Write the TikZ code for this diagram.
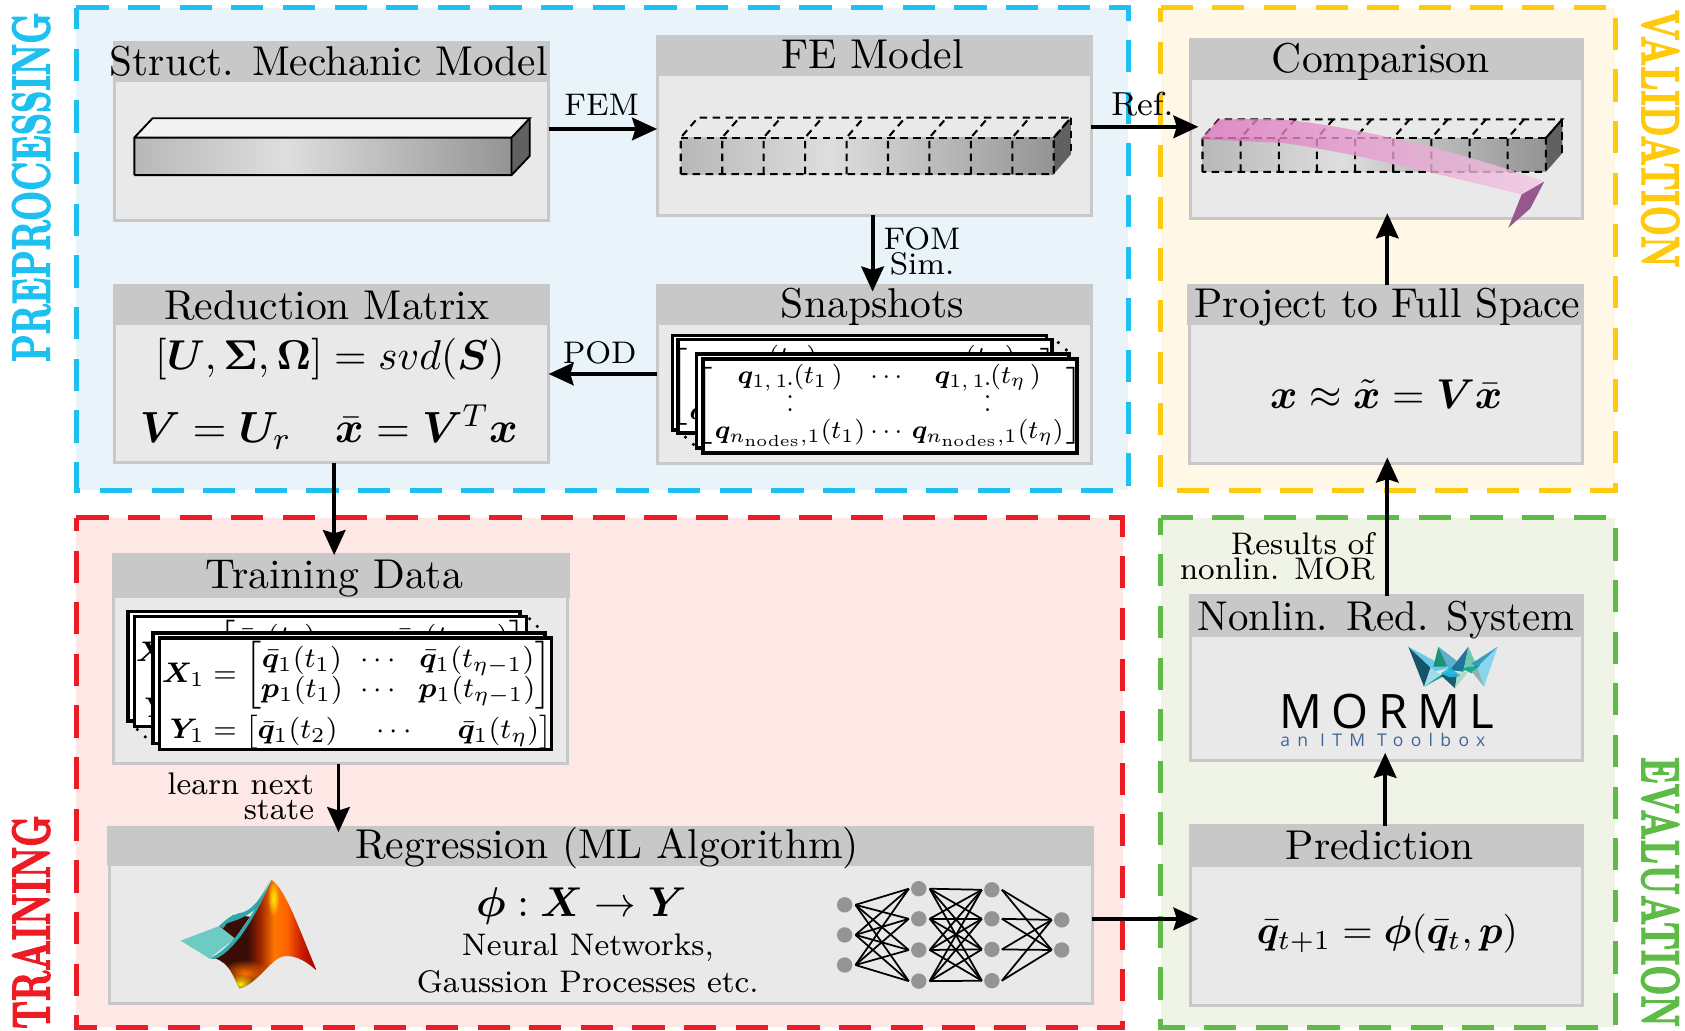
\documentclass[tikz,border=0pt]{standalone}
\usepackage{amsmath}
\usepackage{bm}
\usepackage{fontspec}
\usetikzlibrary{arrows.meta,calc,fadings}
\newfontfamily\morfont[LetterSpace=20]{Open Sans}
\newfontfamily\itmfont[LetterSpace=42]{Open Sans}
\font\sidef="[lmroman10-bold.otf]:embolden=3" at 10pt
\definecolor{cblue}{HTML}{1EC0F0}\definecolor{fblue}{HTML}{E8F4FA}
\definecolor{cyel}{HTML}{FFC90E}\definecolor{fyel}{HTML}{FFF8E6}
\definecolor{cred}{HTML}{ED1C24}\definecolor{fred}{HTML}{FDE8E6}
\definecolor{cgrn}{HTML}{5DBB46}\definecolor{fgrn}{HTML}{F0F4E6}
\definecolor{hdr}{HTML}{C8C8C8}\definecolor{bodyc}{HTML}{E9E9E9}
\definecolor{pinkl}{HTML}{DC74BC}\definecolor{pinkr}{HTML}{F3C8E4}\definecolor{pinkd}{HTML}{96588E}
\definecolor{mteal}{HTML}{6CCBC2}\definecolor{mtealb}{HTML}{2FA8AE}\definecolor{mdark}{HTML}{3A0C06}
\pgfdeclarehorizontalshading{matbody}{100bp}{color(0bp)=(mdark);color(25bp)=(mdark);
 color(41bp)=(mdark);color(47bp)=(orange!45!red!60!black);color(54bp)=(orange!92!red);
 color(60bp)=(orange!80!red);color(67bp)=(red!70!orange!80!black);color(75bp)=(red!60!black);color(100bp)=(red!60!black)}
\tikzfading[name=glowf,inner color=transparent!0,outer color=transparent!100]
\tikzset{
 fmbody/.style={draw=hdr,fill=bodyc,line width=.75pt,inner sep=0,outer sep=0,rectangle},
 arr/.style={-{Stealth[length=6pt,width=5.4pt,inset=.8pt]},line width=.95pt,black},
 lab/.style={font=\fontsize{7.5}{9}\selectfont,inner sep=0,align=center},
 fdash/.style={dash pattern=on 7.74pt off 4.66pt,line width=1.2pt},
 gridd/.style={dash pattern=on 1.8pt off 1.3pt,line width=.5pt,black},
 sheet/.style={draw=black,fill=white,line width=.85pt},
 neuron/.style={circle,fill=black!42,inner sep=0,minimum size=3.7pt,outer sep=0},
 edgel/.style={line width=.42pt,black},
 side/.style={inner sep=0,font=\sidef},
}
\newcommand\fmframe[6]{%
 \fill[#6] (#2,#3) rectangle (#4,#5);
 \draw[#1,fdash] (#2,#3) -- (#4,#3) -- (#4,#5) -- (#2,#5) -- cycle;}
\newcommand\fmbox[9]{%
 \node[fmbody,minimum width={(#4-#2-3)*0.258pt},minimum height={(#5-#3-3)*0.258pt}] (#1) at ({(#2+#4)/2},{(#3+#5)/2}) {};
 \fill[hdr] (#2,#3) rectangle (#4,#6);
 \node[anchor=base,inner sep=0] (#1-title) at (#7,#8) {#9};}
\newcommand\frontshade[4]{%
 \shade[left color=black!28,right color=black!13] (#1,#3) rectangle ({#1+0.4*(#2-#1)},#4);
 \shade[left color=black!13,right color=black!42] ({#1+0.4*(#2-#1)},#3) rectangle (#2,#4);}
\newcommand\febeam[6]{%
 \frontshade{#1}{#2}{#3}{#4}
 \fill[black!62] (#2,#3) -- ++(#5,#6) -- (#2+#5,#4+#6) -- (#2,#4) -- cycle;
 \draw[gridd] (#1,#4) -- (#1,#3) -- ++(#5,#6) -- (#2+#5,#3+#6) -- (#2,#3) -- (#2,#4) -- cycle;
 \draw[gridd] (#1,#3) -- (#2,#3);
 \foreach \i in {1,...,8}{
  \pgfmathsetmacro\xx{#1+\i*(#2-#1)/9}
  \draw[gridd] (\xx,#4) -- (\xx,#3) -- ++(#5,#6);}
 \draw[gridd] (#2,#3) -- ++(#5,#6);
 \draw[gridd] (#2+#5,#3+#6) -- (#2+#5,#4+#6);}
\newcommand\snapmat{\scalebox{.77}{\footnotesize\renewcommand\arraystretch{.9}\setlength\arraycolsep{.8pt}$\left[\begin{array}{ccc}
 \bm{q}_{1,\,1}\,(t_1\,) & \cdots & \bm{q}_{1,\,1}\,(t_\eta\,)\\
 \smash{\vdots} & & \smash{\vdots}\\
 \bm{q}_{n_{\text{nodes}},1}(t_1) & \cdots & \bm{q}_{n_{\text{nodes}},1}(t_\eta)
 \end{array}\right]$}}
\newcommand\trainmat{\scalebox{.85}{\footnotesize\setlength\arraycolsep{2.5pt}$\begin{aligned}
 \bm{X}_1 &= \begin{bmatrix}\bar{\bm{q}}_1(t_1) & \cdots & \bar{\bm{q}}_1(t_{\eta-1})\\[-1pt] \bm{p}_1(t_1) & \cdots & \bm{p}_1(t_{\eta-1})\end{bmatrix}\\[-2.5pt]
 \bm{Y}_1 &= \begin{bmatrix}\bar{\bm{q}}_1(t_2) & \hspace{6pt}\cdots\hspace{6pt} & \hspace{2pt}\bar{\bm{q}}_1(t_\eta)\end{bmatrix}
 \end{aligned}$}}
\newcommand\crownp[2]{\definecolor{cc}{HTML}{#1}\fill[cc,opacity=.92] #2 -- cycle;}
\begin{document}
\begin{tikzpicture}[x=0.258pt,y=-0.258pt]
\useasboundingbox (0,0) rectangle (1568,959.4);
% frames
\fmframe{cblue}{71}{7}{1050}{456}{fblue}
\fmframe{cyel}{1080}{7}{1503}{456}{fyel}
\fmframe{cred}{71}{482}{1045}{956}{fred}
\fmframe{cgrn}{1080}{482}{1503}{956}{fgrn}
% side labels
\node[side,rotate=90,text=cblue] (lprep) at (29,174) {\scalebox{.84}[1.28]{PREPROCESSING}};
\node[side,rotate=90,text=cred] (ltrain) at (29,858) {\scalebox{.84}[1.28]{TRAINING}};
\node[side,rotate=-90,text=cyel] (lval) at (1545,129) {\scalebox{.84}[1.28]{VALIDATION}};
\node[side,rotate=-90,text=cgrn] (leval) at (1545,830) {\scalebox{.84}[1.28]{EVALUATION}};
% boxes
\fmbox{struct}{105}{38}{512}{207}{76}{306}{70}{\scalebox{.99}[1]{Struct. Mechanic Model}}
\fmbox{fe}{610}{33}{1017}{202}{71}{812}{64}{FE Model}
\fmbox{red}{105}{264}{512}{432}{302}{304}{297}{Reduction Matrix}
\fmbox{snap}{610}{264}{1017}{433}{302}{812}{295}{Snapshots}
\fmbox{cmp}{1106}{35}{1474}{205}{74}{1285}{67}{Comparison}
\fmbox{proj}{1105}{264}{1474}{433}{302}{1291}{295}{Project to Full Space}
\fmbox{train}{104}{515}{530}{712}{556}{311}{548}{Training Data}
\fmbox{regr}{100}{769}{1018}{935}{806}{565}{799}{Regression (ML Algorithm)}
\fmbox{nonl}{1106}{553}{1474}{709}{593}{1290}{587}{\scalebox{.98}[1]{Nonlin. Red. System}}
\fmbox{pred}{1106}{767}{1474}{937}{807}{1284}{800}{Prediction}
% solid beam
\fill[bodyc!55!white] (125,128) -- (142,110) -- (493,110) -- (476,128) -- cycle;
\frontshade{125}{476}{128}{163}
\fill[black!62] (476,128) -- (493,110) -- (493,145) -- (476,163) -- cycle;
\draw[black,line width=.45pt] (125,163) -- (125,128) -- (142,110) -- (493,110) -- (476,128) -- (125,128) (476,128) -- (476,163) -- (125,163) (493,110) -- (493,145) -- (476,163);
% discretised beams
\febeam{633.5}{980.6}{128}{162}{16}{-18.5}
\febeam{1119}{1438.5}{128.5}{160}{15.3}{-17.5}
\shade[left color=pinkl,right color=pinkr,opacity=.8]
 (1134.5,111) .. controls (1170,111) and (1190,110) .. (1210,113) .. controls (1260,119) and (1350,138) .. (1437,169)
 -- (1416,181) .. controls (1350,165) and (1260,142) .. (1194,133) -- (1117,129.6) -- cycle;
\fill[pinkd] (1437,169) -- (1416,181) -- (1403.6,212) -- (1424,194) -- cycle;
% snapshots stack
\draw[sheet] (625.6,312) rectangle (974,400);
\draw[sheet] (631,316) rectangle (979,403);
\begin{scope}
 \clip (633,318) rectangle (977,401);
 \node[inner sep=0] (snapback) at (804,359.5) {\snapmat};
\end{scope}
\draw[dotted,line width=.6pt] (984,318) -- (997,330);
\draw[dotted,line width=.6pt] (637,406) -- (648,416);
\draw[sheet] (648,329.5) rectangle (995,417);
\draw[sheet] (654,334) rectangle (1002,421.6);
\node[inner sep=0] (snapfront) at (827.5,377.5) {\snapmat};
% training stack
\draw[sheet] (119,569) rectangle (484,671);
\draw[sheet] (125,573.7) rectangle (490,676);
\begin{scope}
 \clip (127,575.5) rectangle (488,674);
 \node[inner sep=0] (trainback) at (308,627) {\trainmat};
\end{scope}
\draw[dotted,line width=.6pt] (492,575) -- (505,588);
\draw[dotted,line width=.6pt] (127,678) -- (142,692);
\draw[sheet] (142.4,588.8) rectangle (507,692);
\draw[sheet] (148.5,593.5) rectangle (513,697.5);
\node[inner sep=0] (trainfront) at (332,647) {\trainmat};
% equations
\node[anchor=base,inner sep=0] (eqa) at (307,344) {$[\bm{U},\bm{\Sigma},\bm{\Omega}]=svd(\bm{S})$};
\node[anchor=base,inner sep=0] (eqb) at (306,412) {\scalebox{.955}{\fontsize{10.95}{13}\selectfont$\bm{V}=\bm{U}_r\quad\bar{\bm{x}}=\bm{V}^T\bm{x}$}};
\node[anchor=base,inner sep=0] (eqc) at (1290,380) {$\bm{x}\approx\tilde{\bm{x}}=\bm{V}\bar{\bm{x}}$};
\node[anchor=base,inner sep=0] (eqd) at (1291,878) {\scalebox{.94}{$\bar{\bm{q}}_{t+1}=\bm{\phi}(\bar{\bm{q}}_t,\bm{p})$}};
\node[anchor=base,inner sep=0] (eqe) at (541,853) {$\bm{\phi}:\bm{X}\rightarrow\bm{Y}$};
\node[anchor=base,lab] (nn1) at (547,889) {Neural Networks,};
\node[anchor=base,lab] (nn2) at (547,924) {Gaussion Processes etc.};
% neural network
\foreach \n/\x/\y in {a1/786/842,a2/786/870,a3/786/898,b1/855/827,b2/855/855,b3/855/884,b4/855/913,c1/923/828,c2/923/855,c3/923/883.5,c4/923/912.6,d1/988/856,d2/988/884}
 \node[neuron] (\n) at (\x,\y) {};
\foreach \p in {a1,a2,a3}\foreach \q in {b1,b2,b3,b4}
 \draw[edgel] ([xshift=2.6pt]\p.center) -- ([xshift=-2.4pt]\q.center);
\foreach \p in {b1,b2,b3,b4}\foreach \q in {c1,c2,c3,c4}
 \draw[edgel] ([xshift=2.6pt]\p.center) -- ([xshift=-2.4pt]\q.center);
\foreach \p in {c1,c2,c3,c4}\foreach \q in {d1,d2}
 \draw[edgel] ([xshift=2.4pt]\p.center) -- ([xshift=-2.4pt]\q.center);
% MATLAB logo
\begin{scope}[shift={(158.2,809.6)},scale=.3102]
 \fill[mteal] (32,212) -- (148,168) -- (195,205) -- (118,265) -- cycle;
 \fill[mdark] (148,168) -- (195,205) -- (240,140) -- (190,135) -- cycle;
 \fill[mtealb] (148,168) .. controls (165,150) and (185,135) .. (205,130) .. controls (245,125) and (270,90) .. (300,30)
   -- (262,110) .. controls (235,140) and (200,150) .. (170,160) -- (160,175) -- cycle;
 \begin{scope}
  \clip (305,30) .. controls (345,55) and (385,170) .. (440,302)
    .. controls (400,265) and (360,250) .. (330,262)
    .. controls (295,280) and (255,345) .. (208,355)
    .. controls (190,320) and (180,280) .. (135,265)
    .. controls (190,235) and (250,130) .. (305,30) -- cycle;
  \shade[shading=matbody] (135,30) rectangle (440,355);
  \fill[orange!90!red,path fading=glowf] (225,310) ellipse (75 and 42);
  \fill[yellow,path fading=glowf] (210,342) ellipse (44 and 28);
  \fill[yellow,path fading=glowf] (310,85) ellipse (18 and 55);
 \end{scope}
 \fill[mtealb] (118,265) .. controls (190,235) and (250,130) .. (305,30) .. controls (260,130) and (200,240) .. (135,267) -- cycle;
\end{scope}
% MORML logo
\begin{scope}[shift={(1302.8,595.6)},scale=.3102]
 \crownp{07485E}{(25,20) -- (92,82) -- (72,140)}
 \crownp{5CC8EE}{(25,20) -- (145,85) -- (100,95) -- (92,82)}
 \crownp{9ADCE8}{(92,82) -- (122,105) -- (72,140)}
 \crownp{0E8A72}{(115,20) -- (145,80) -- (100,80)}
 \crownp{55ACCB}{(115,20) -- (170,62) -- (150,100) -- (140,75)}
 \crownp{0AA080}{(72,140) -- (175,85) -- (130,100)}
 \crownp{0F6C92}{(205,20) -- (150,90) -- (190,95)}
 \crownp{0A5068}{(122,105) -- (165,145) -- (172,98)}
 \crownp{66C6A8}{(205,20) -- (228,72) -- (190,95)}
 \crownp{A8DAC8}{(165,145) -- (205,95) -- (172,98)}
 \crownp{22B8E0}{(122,100) -- (150,82) -- (182,108) -- (150,112)}
 \crownp{2B93BC}{(293,20) -- (215,70) -- (232,85)}
 \crownp{80D4F0}{(293,20) -- (252,140) -- (225,88)}
 \crownp{0AA58A}{(185,85) -- (240,75) -- (215,100)}
 \crownp{8FB0AE}{(215,95) -- (252,140) -- (232,85)}
\end{scope}
\begin{scope}[shift={(1070,465)},xscale=.3177,yscale=.315]
 \node[anchor=base west,inner sep=0,font=\morfont\fontsize{11.4}{14}\selectfont] (morml) at (377,675) {MORML};
 \node[anchor=base west,inner sep=0,font=\itmfont\fontsize{4.2}{5}\selectfont,text=cyan!50!blue!70!black] (itm) at (380,730) {an ITM Toolbox};
\end{scope}
% connectors
\draw[arr] (struct.east |- 0,120) -- (fe.west |- 0,120);
\node[lab,anchor=base] (lfem) at (560,107) {FEM};
\draw[arr,shorten >=-2pt] (fe.east |- 0,118) -- (cmp.west |- 0,118);
\node[lab,anchor=base,font=\footnotesize] (lref) at (1063,107) {Ref.};
\draw[arr,shorten >=-1.5pt] (fe.south -| 812,0) -- (snap.north -| 812,0);
\node[lab,anchor=north] (lfom) at (858,211) {FOM\\[-3pt]Sim.};
\draw[arr] (snap.west |- 0,348) -- (red.east |- 0,348);
\node[lab,anchor=base] (lpod) at (558,338) {POD};
\draw[arr] (red.south -| 311,0) -- (train.north -| 311,0);
\draw[arr,shorten >=-1pt] (train.south -| 315,0) -- (regr.north -| 315,0);
\node[lab,anchor=north east,align=right] (llearn) at (293,718) {learn next\\[-3pt]state};
\draw[arr,shorten >=-1.3pt] (proj.north -| 1291,0) -- (cmp.south -| 1291,0);
\draw[arr,shorten >=-1.5pt] (nonl.north -| 1291,0) -- (proj.south -| 1291,0);
\node[lab,anchor=north east,align=right] (lres) at (1280,495) {Results of\\[-3pt]nonlin. MOR};
\draw[arr,shorten >=-1.8pt] (pred.north -| 1289,0) -- (nonl.south -| 1289,0);
\draw[arr,shorten >=-2pt] (regr.east |- 0,855) -- (pred.west |- 0,855);
\end{tikzpicture}
\end{document}
